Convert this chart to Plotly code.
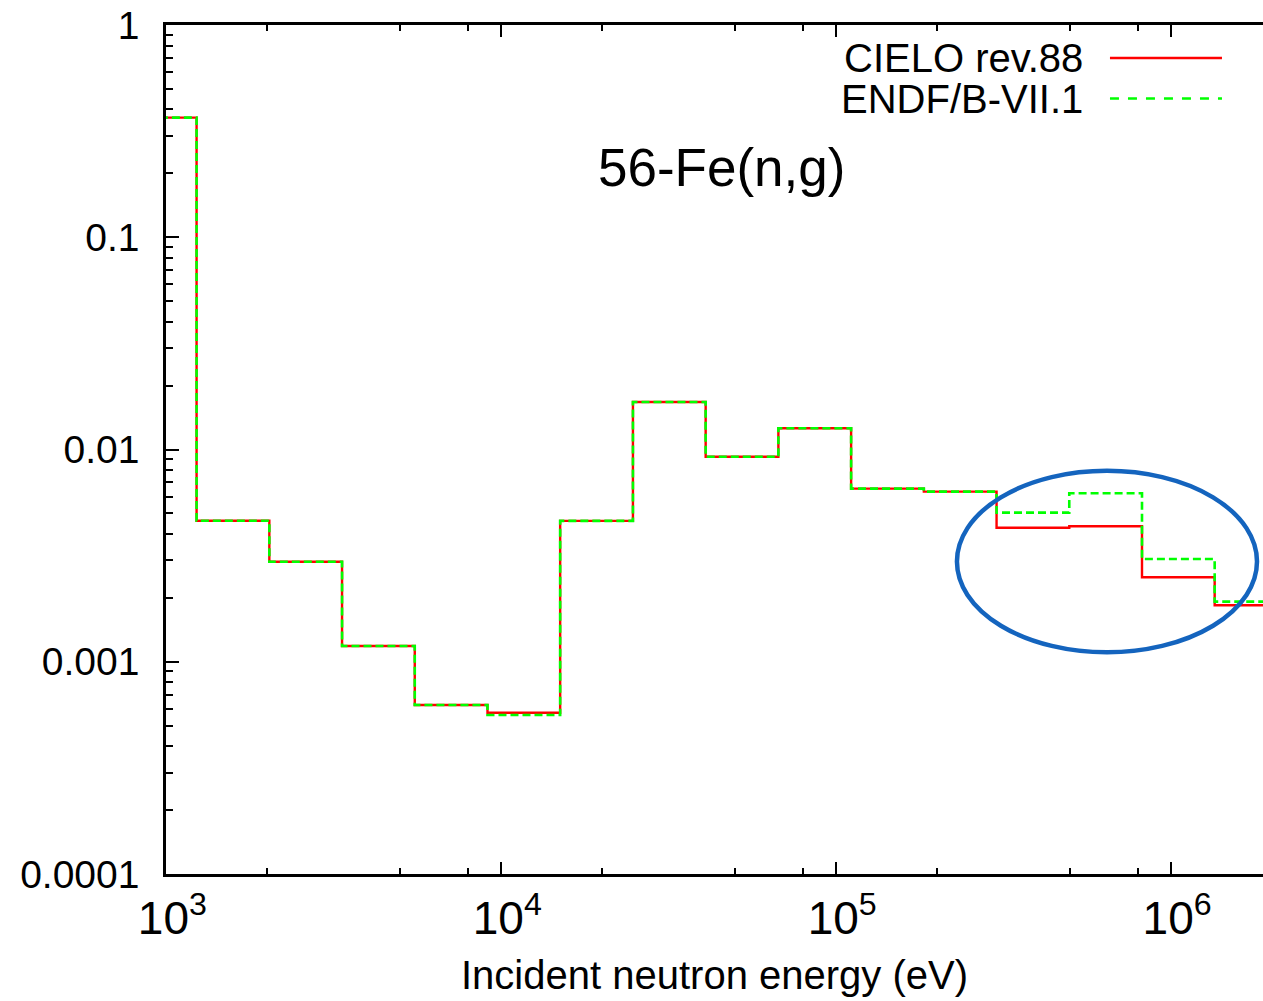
import plotly.graph_objects as go

# group boundaries (eV) and group-wise values
energy_edges = [748.5, 1234, 2035, 3355, 5531, 9119, 15030, 24790, 40870,
                67380, 111100, 183200, 302000, 497900, 820900, 1353000, 2231000]
cielo_xs = [0.366, 0.00462, 0.00296, 0.001186, 0.000625, 0.000575, 0.00461, 0.01674,
            0.00925, 0.01259, 0.00654, 0.00633, 0.00428, 0.00435, 0.00250, 0.001845]
endf_xs = [0.366, 0.00462, 0.00296, 0.001186, 0.000625, 0.000561, 0.00461, 0.01674,
           0.00925, 0.01259, 0.00654, 0.00633, 0.00504, 0.00622, 0.00305, 0.00192]

x_tickvals = [1e3, 1e4, 1e5, 1e6]
x_ticktext = ["\u00a010<sup>3</sup>", "\u00a010<sup>4</sup>",
              "\u00a010<sup>5</sup>", "\u00a010<sup>6</sup>"]
y_tickvals = [1e-4, 1e-3, 1e-2, 1e-1, 1]
y_ticktext = ["0.0001", "0.001", "0.01", "0.1", "1"]

# energies / values enclosed by the blue highlight ellipse
highlight_e = [2.3e5, 1.81e6]
highlight_v = [1.108e-3, 7.94e-3]

FONT = "Liberation Sans, Arial, Helvetica, sans-serif"
RED = "#ff0000"
GREEN = "#00ff00"

x_minor = [m * 10 ** d for d in range(3, 7) for m in (2, 5, 8)]
y_minor = [m * 10 ** d for d in range(-4, 0) for m in range(2, 10)]

fig = go.Figure()

fig.add_trace(go.Scatter(
    x=energy_edges, y=cielo_xs + [cielo_xs[-1]],
    mode="lines", line_shape="hv", name="CIELO rev.88",
    line={"color": RED, "width": 2.4}, showlegend=False,
))
fig.add_trace(go.Scatter(
    x=energy_edges, y=endf_xs + [endf_xs[-1]],
    mode="lines", line_shape="hv", name="ENDF/B-VII.1",
    line={"color": GREEN, "width": 2.6, "dash": "8px,4px"}, showlegend=False,
))

# highlight ellipse around the high-energy groups
fig.add_shape(
    type="circle", xref="x", yref="y",
    x0=highlight_e[0], x1=highlight_e[1],
    y0=highlight_v[0], y1=highlight_v[1],
    line={"color": "#1464be", "width": 4.5},
)

# hand-made key: text on the left, line sample on the right (gnuplot style)
key_rows = [("CIELO rev.88", RED, "solid", 0.9611), ("ENDF/B-VII.1", GREEN, "dash", 0.9134)]
for label, color, dash, yp in key_rows:
    fig.add_annotation(
        text=label, xref="paper", yref="paper", x=0.8377, y=yp,
        xanchor="right", yanchor="middle", showarrow=False,
        font={"family": FONT, "size": 40, "color": "black"},
    )
    fig.add_shape(
        type="line", xref="paper", yref="paper", x0=0.8605, x1=0.9626, y0=yp, y1=yp,
        line={"color": color, "width": 2.4, "dash": dash},
    )

fig.add_annotation(
    text="56-Fe(n,g)", xref="paper", yref="paper", x=0.5066, y=0.8316,
    xanchor="center", yanchor="middle", showarrow=False,
    font={"family": FONT, "size": 53, "color": "black"},
)

fig.update_layout(
    width=1263, height=1001,
    margin={"l": 166, "r": 0, "t": 25, "b": 127},
    paper_bgcolor="white", plot_bgcolor="white",
    font={"family": FONT, "color": "black"},
    xaxis={
        "type": "log", "range": [3, 6.2756], "automargin": False,
        "tickvals": x_tickvals, "ticktext": x_ticktext,
        "tickfont": {"size": 46}, "ticklabeloverflow": "allow",
        "ticks": "inside", "ticklen": 12, "tickwidth": 2, "tickcolor": "black",
        "minor": {"tickvals": x_minor, "ticks": "inside", "ticklen": 6,
                  "tickwidth": 2, "tickcolor": "black"},
        "showline": True, "linecolor": "black", "linewidth": 2.5, "mirror": "ticks",
        "showgrid": False, "zeroline": False,
        "ticklabelstandoff": 2,
        "title": {"text": "Incident neutron energy (eV)", "font": {"size": 40}, "standoff": 19},
    },
    yaxis={
        "type": "log", "range": [-4, 0], "automargin": False,
        "tickvals": y_tickvals, "ticktext": y_ticktext,
        "tickfont": {"size": 39}, "ticklabeloverflow": "allow",
        "ticks": "inside", "ticklen": 13, "tickwidth": 2, "tickcolor": "black",
        "minor": {"tickvals": y_minor, "ticks": "inside", "ticklen": 7,
                  "tickwidth": 2, "tickcolor": "black"},
        "showline": True, "linecolor": "black", "linewidth": 2.5,
        "showgrid": False, "zeroline": False,
        "ticklabelstandoff": 16,
    },
    yaxis2={
        "type": "log", "range": [-4, 0], "overlaying": "y", "side": "right",
        "anchor": "x", "automargin": False,
        "tickvals": y_tickvals, "showticklabels": False,
        "ticks": "inside", "ticklen": 6, "tickwidth": 2, "tickcolor": "black",
        "showline": False, "showgrid": False, "zeroline": False,
    },
)

# drop the page's default body margin so the figure fills the window exactly
fig.write_html(
    "out.html",
    config={"displayModeBar": False},
    post_script="document.body.style.margin='0';document.body.style.overflow='hidden';",
)
